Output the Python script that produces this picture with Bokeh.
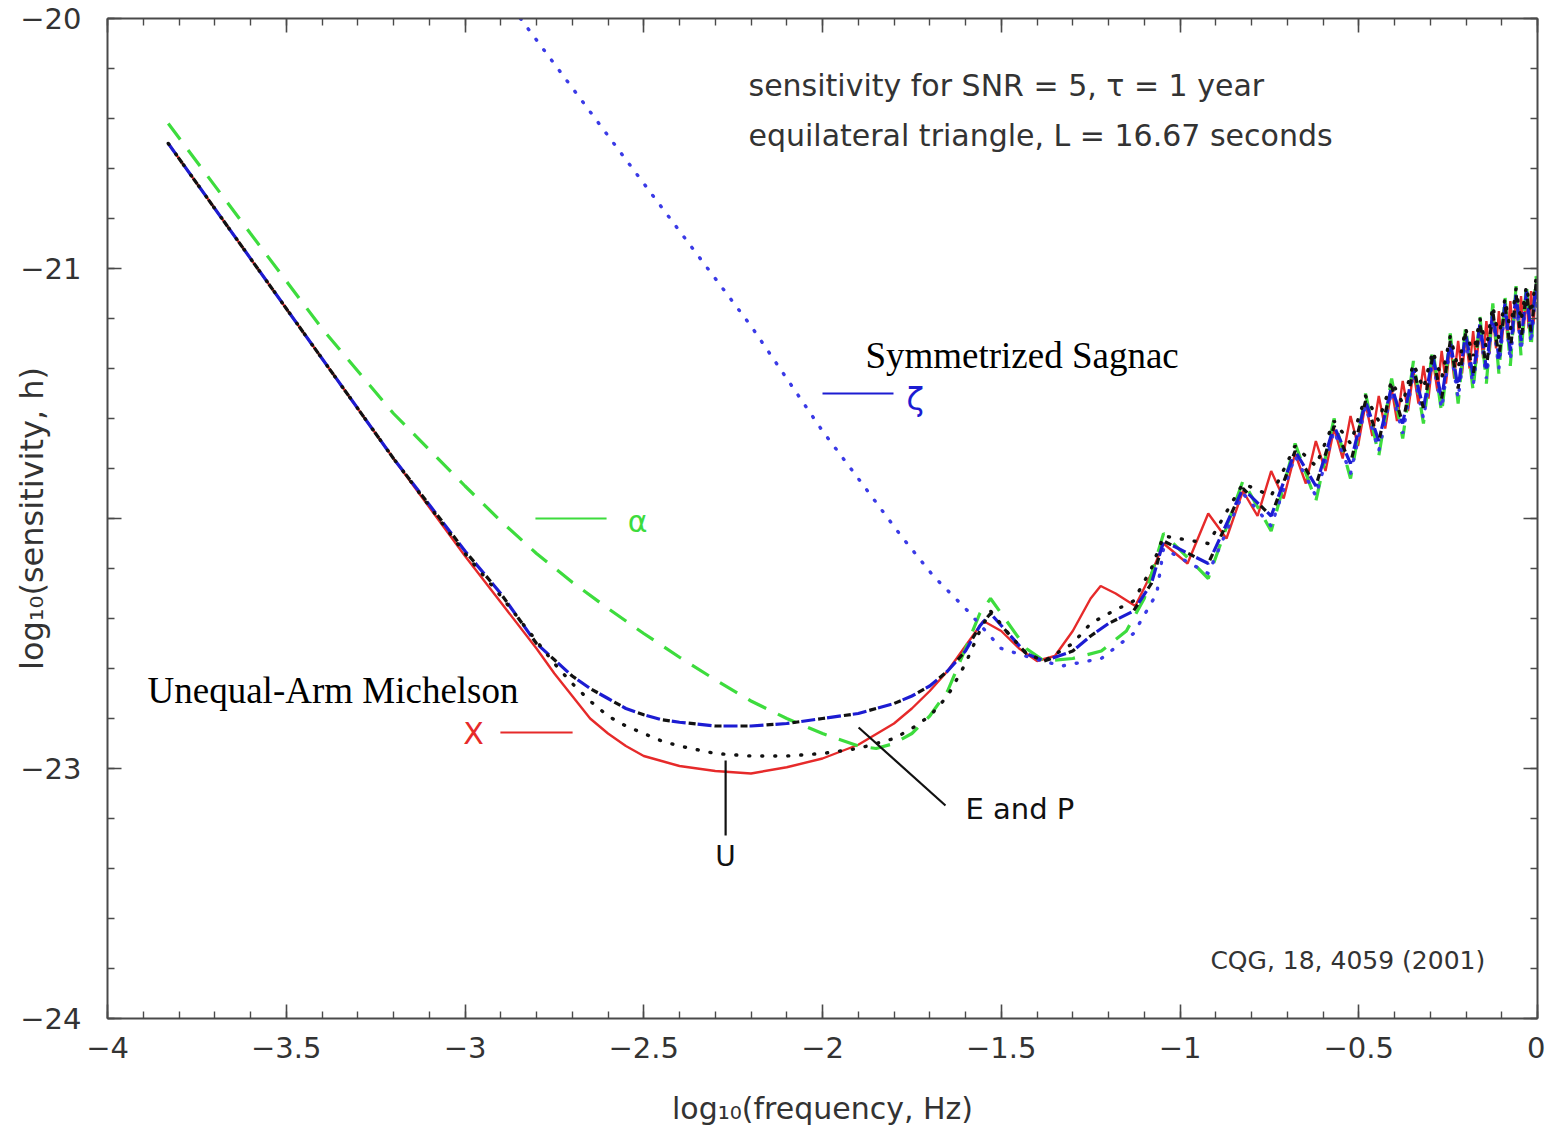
from bokeh.plotting import figure
from bokeh.models import (FixedTicker, LinearAxis, Label, CustomJSTickFormatter, Arrow,
                          CustomLabelingPolicy)
from bokeh.embed import file_html
from bokeh.resources import INLINE

# ---------------- axis ticks ----------------
x_ticks = [-4, -3.5, -3, -2.5, -2, -1.5, -1, -0.5, 0]
y_ticks = [-24, -23, -22, -21, -20]
x_minor = [round(-4 + 0.1 * i, 1) for i in range(41)]
y_minor = [round(-24 + 0.2 * i, 1) for i in range(21)]

# ---------------- data: X (unequal-arm Michelson, red) ----------------
x_red_low = [-3.83, -3.5, -3.2, -3.0, -2.9, -2.8, -2.75, -2.7, -2.65, -2.6,
             -2.55, -2.5, -2.45, -2.4, -2.3, -2.2, -2.1, -2.0, -1.9, -1.8,
             -1.75, -1.7, -1.65, -1.6, -1.55, -1.5, -1.45, -1.4, -1.35, -1.3,
             -1.25, -1.222, -1.18, -1.125, -1.08, -1.046]
y_red_low = [-20.50, -21.16, -21.76, -22.15, -22.335, -22.52, -22.62, -22.71, -22.80, -22.86,
             -22.91, -22.95, -22.97, -22.99, -23.01, -23.02, -22.995, -22.96, -22.905, -22.82,
             -22.76, -22.69, -22.61, -22.51, -22.41, -22.45, -22.52, -22.57, -22.55, -22.45,
             -22.32, -22.27, -22.30, -22.35, -22.22, -22.10]
x_red_hf = [-0.979, -0.921, -0.870, -0.824, -0.783, -0.745, -0.710, -0.678, -0.648, -0.620,
            -0.593, -0.569, -0.545, -0.523, -0.502, -0.481, -0.462, -0.444, -0.426, -0.408,
            -0.393, -0.377, -0.362, -0.347, -0.333, -0.319, -0.305, -0.293, -0.280, -0.268,
            -0.256, -0.244, -0.233, -0.222, -0.211, -0.201, -0.190, -0.180, -0.171, -0.161,
            -0.152, -0.143, -0.134, -0.125, -0.116, -0.108, -0.100, -0.091, -0.084, -0.076,
            -0.068, -0.060, -0.053, -0.046, -0.039, -0.031, -0.025, -0.018, -0.011, -0.004, 0.0]
y_red_hf = [-22.18, -21.98, -22.08, -21.89, -21.99, -21.81, -21.92, -21.74, -21.86, -21.69,
            -21.81, -21.64, -21.76, -21.59, -21.71, -21.54, -21.67, -21.51, -21.64, -21.48,
            -21.61, -21.45, -21.57, -21.41, -21.54, -21.39, -21.52, -21.36, -21.49, -21.33,
            -21.46, -21.30, -21.44, -21.29, -21.42, -21.27, -21.40, -21.25, -21.38, -21.23,
            -21.36, -21.21, -21.34, -21.18, -21.32, -21.17, -21.30, -21.15, -21.28, -21.13,
            -21.26, -21.11, -21.25, -21.11, -21.25, -21.10, -21.24, -21.09, -21.22, -21.07, -21.12]

# shared high-frequency positions (even-n troughs / odd-n peaks) for alpha, zeta, U, E&P
x_hf = [-0.921, -0.824, -0.745, -0.678, -0.620, -0.569, -0.523, -0.481, -0.444, -0.408,
        -0.377, -0.347, -0.319, -0.293, -0.268, -0.244, -0.222, -0.201, -0.180, -0.161,
        -0.143, -0.125, -0.108, -0.091, -0.076, -0.060, -0.046, -0.031, -0.018, -0.004, 0.0]

# ---------------- alpha (Sagnac, green dashed) ----------------
x_alpha_low = [-3.83, -3.6, -3.4, -3.2, -3.0, -2.9, -2.8, -2.7, -2.6, -2.5,
               -2.4, -2.3, -2.2, -2.1, -2.0, -1.9, -1.85, -1.8, -1.75, -1.7,
               -1.65, -1.6, -1.56, -1.53, -1.48, -1.43, -1.38, -1.3, -1.22, -1.15,
               -1.1, -1.046]
y_alpha_low = [-20.42, -20.86, -21.24, -21.58, -21.87, -22.01, -22.14, -22.255, -22.36, -22.46,
               -22.555, -22.645, -22.73, -22.80, -22.86, -22.91, -22.92, -22.90, -22.86, -22.79,
               -22.69, -22.52, -22.38, -22.32, -22.42, -22.52, -22.57, -22.56, -22.53, -22.45,
               -22.32, -22.06]
y_alpha_hf = [-22.24, -21.85, -22.05, -21.70, -21.93, -21.60, -21.84, -21.50, -21.75, -21.44,
              -21.68, -21.37, -21.62, -21.32, -21.58, -21.26, -21.54, -21.23, -21.49, -21.19,
              -21.46, -21.14, -21.42, -21.11, -21.39, -21.07, -21.35, -21.06, -21.32, -21.03, -21.10]

# ---------------- U (black dotted) ----------------
x_u_low = [-3.83, -3.5, -3.2, -3.0, -2.9, -2.85, -2.8, -2.75, -2.7, -2.65,
           -2.6, -2.55, -2.5, -2.45, -2.4, -2.3, -2.2, -2.1, -2.0, -1.9,
           -1.8, -1.75, -1.7, -1.65, -1.6, -1.56, -1.53, -1.48, -1.43, -1.38,
           -1.3, -1.25, -1.2, -1.13, -1.08, -1.046]
y_u_low = [-20.50, -21.16, -21.76, -22.14, -22.31, -22.40, -22.49, -22.58, -22.66, -22.73,
           -22.79, -22.83, -22.86, -22.89, -22.91, -22.94, -22.95, -22.95, -22.94, -22.92,
           -22.88, -22.84, -22.79, -22.71, -22.58, -22.45, -22.37, -22.46, -22.54, -22.57,
           -22.50, -22.42, -22.38, -22.33, -22.20, -22.07]
y_u_hf = [-22.10, -21.86, -21.91, -21.71, -21.79, -21.61, -21.70, -21.51, -21.61, -21.45,
          -21.54, -21.38, -21.48, -21.33, -21.44, -21.27, -21.40, -21.24, -21.35, -21.20,
          -21.32, -21.15, -21.28, -21.12, -21.25, -21.08, -21.21, -21.07, -21.18, -21.04, -21.10]

# ---------------- E and P (blue dash-dot / black dashes) ----------------
x_ep_low = [-3.83, -3.5, -3.2, -3.0, -2.9, -2.85, -2.8, -2.75, -2.7, -2.65,
            -2.6, -2.55, -2.5, -2.45, -2.4, -2.3, -2.2, -2.1, -2.0, -1.9,
            -1.8, -1.75, -1.7, -1.65, -1.6, -1.56, -1.53, -1.48, -1.43, -1.38,
            -1.3, -1.25, -1.2, -1.13, -1.08, -1.046]
y_ep_low = [-20.50, -21.16, -21.76, -22.13, -22.30, -22.40, -22.50, -22.565, -22.63, -22.68,
            -22.72, -22.76, -22.785, -22.805, -22.815, -22.83, -22.83, -22.82, -22.80, -22.78,
            -22.74, -22.71, -22.67, -22.61, -22.53, -22.43, -22.38, -22.46, -22.54, -22.57,
            -22.53, -22.47, -22.42, -22.37, -22.26, -22.09]
y_ep_hf = [-22.18, -21.88, -21.99, -21.73, -21.87, -21.63, -21.78, -21.53, -21.69, -21.47,
           -21.62, -21.40, -21.56, -21.35, -21.52, -21.29, -21.48, -21.26, -21.43, -21.22,
           -21.40, -21.17, -21.36, -21.14, -21.33, -21.10, -21.29, -21.09, -21.26, -21.06, -21.14]

# ---------------- zeta (symmetrized Sagnac, blue dotted) ----------------
x_zeta_low = [-2.845, -2.5, -2.2, -2.0, -1.9, -1.78, -1.69, -1.6, -1.55, -1.5, -1.41, -1.33,
              -1.22, -1.13, -1.065, -1.046]
y_zeta_low = [-20.00, -20.66, -21.23, -21.65, -21.84, -22.07, -22.23, -22.36, -22.44, -22.52,
              -22.56, -22.59, -22.56, -22.46, -22.30, -22.12]
y_zeta_hf = [-22.22, -21.90, -22.03, -21.75, -21.91, -21.65, -21.82, -21.55, -21.73, -21.49,
             -21.66, -21.42, -21.60, -21.37, -21.56, -21.31, -21.52, -21.28, -21.47, -21.24,
             -21.44, -21.19, -21.40, -21.16, -21.37, -21.12, -21.33, -21.11, -21.30, -21.08, -21.16]

# ---------------- colours ----------------
RED = "#e62a2a"
GREEN = "#3ddc3d"
BLUE = "#1c1cd2"
BLUE_DOT = "#3a3ae6"
BLACK = "#111111"
AXC = "#4a4a4a"

p = figure(width=1545, height=1128, x_range=(-4, 0), y_range=(-24, -20),
           output_backend="svg", toolbar_location=None,
           min_border_left=107, min_border_right=8, min_border_top=18, min_border_bottom=110)
p.background_fill_color = "white"
p.border_fill_color = "white"
p.outline_line_color = None
p.xgrid.visible = False
p.ygrid.visible = False

fmt_code = """
const a = Math.round(Math.abs(tick) * 10) / 10;
return (tick < -1e-9 ? '\u2212' : '') + a.toString();
"""
skip_m22 = """
const result = new Set();
let k = 0;
for (const i of indices) { if (k != 2) { result.add(i); } k += 1; }
return result;
"""
hide_all = """
return new Set();
"""

def style_axis(ax, ticks, minor, labels=True):
    ax.ticker = FixedTicker(ticks=ticks, minor_ticks=minor)
    ax.axis_line_color = AXC
    ax.axis_line_width = 2
    ax.major_tick_line_color = AXC
    ax.major_tick_line_width = 1.6
    ax.minor_tick_line_color = AXC
    ax.minor_tick_line_width = 1.4
    ax.major_tick_in = 14
    ax.major_tick_out = 0
    ax.minor_tick_in = 7
    ax.minor_tick_out = 0
    if labels:
        ax.formatter = CustomJSTickFormatter(code=fmt_code)
        ax.major_label_text_font = "DejaVu Sans"
        ax.major_label_text_font_size = "29px"
        ax.major_label_text_color = "#333333"
    else:
        ax.major_label_policy = CustomLabelingPolicy(code=hide_all)
        ax.major_label_text_font_size = "1px"
        ax.major_label_standoff = 0

style_axis(p.xaxis[0], x_ticks, x_minor)
style_axis(p.yaxis[0], y_ticks, y_minor)
p.yaxis[0].major_label_policy = CustomLabelingPolicy(code=skip_m22)
p.xaxis[0].major_label_standoff = 18
p.yaxis[0].major_label_standoff = 26

p.xaxis[0].axis_label = "log\u2081\u2080(frequency, Hz)"
p.yaxis[0].axis_label = "log\u2081\u2080(sensitivity, h)"
for ax in (p.xaxis[0], p.yaxis[0]):
    ax.axis_label_text_font = "DejaVu Sans"
    ax.axis_label_text_font_style = "normal"
    ax.axis_label_text_color = "#333333"
p.xaxis[0].axis_label_text_font_size = "30px"
p.yaxis[0].axis_label_text_font_size = "32px"
p.xaxis[0].axis_label_standoff = 30
p.yaxis[0].axis_label_standoff = -34

top_ax = LinearAxis()
right_ax = LinearAxis()
style_axis(top_ax, x_ticks, x_minor, labels=False)
style_axis(right_ax, y_ticks, y_minor, labels=False)
p.add_layout(top_ax, "above")
p.add_layout(right_ax, "right")

# ---------------- curves ----------------
p.line(x_red_low + x_red_hf, y_red_low + y_red_hf, line_color=RED, line_width=2.4)
p.line(x_alpha_low + x_hf, y_alpha_low + y_alpha_hf, line_color=GREEN, line_width=3.2,
       line_dash="20 13")
p.line(x_zeta_low + x_hf, y_zeta_low + y_zeta_hf, line_color=BLUE_DOT, line_width=3.4,
       line_dash="1 12", line_cap="round")
p.line(x_ep_low + x_hf, y_ep_low + y_ep_hf, line_color=BLUE, line_width=3.2, line_dash="14 12")
p.line(x_ep_low + x_hf, y_ep_low + y_ep_hf, line_color=BLACK, line_width=3.2, line_dash="7 19",
       line_dash_offset=9)
p.line(x_u_low + x_hf, y_u_low + y_u_hf, line_color=BLACK, line_width=3.4, line_dash="1 12",
       line_cap="round")

# ---------------- annotations ----------------
def seg(x0, y0, x1, y1, color, width=2.2):
    p.add_layout(Arrow(x_start=x0, y_start=y0, x_end=x1, y_end=y1, end=None,
                       line_color=color, line_width=width))

def txt(x, y, s, size, color="#333333", font="DejaVu Sans", align="left"):
    p.add_layout(Label(x=x, y=y, text=s, text_font=font, text_font_size=size,
                       text_color=color, text_align=align, text_baseline="middle"))

txt(-2.207, -20.268, "sensitivity for SNR = 5, \u03c4 = 1 year", "30px")
txt(-2.207, -20.468, "equilateral triangle, L = 16.67 seconds", "30px")
txt(-0.915, -23.768, "CQG, 18, 4059 (2001)", "25px")
txt(-1.880, -21.348, "Symmetrized Sagnac", "37px", color="#000000", font="Liberation Serif")
txt(-3.888, -22.688, "Unequal-Arm Michelson", "37px", color="#000000", font="Liberation Serif")

seg(-2.0, -21.5, -1.8014, -21.5, BLUE)
txt(-1.765, -21.52, "\u03b6", "32px", color=BLUE)
seg(-2.803, -22.0, -2.604, -22.0, GREEN)
txt(-2.545, -22.01, "\u03b1", "30px", color=GREEN)
txt(-2.976, -22.86, "X", "30px", color=RED, align="center")
seg(-2.901, -22.856, -2.699, -22.856, RED)
seg(-2.271, -22.968, -2.271, -23.268, BLACK)
txt(-2.271, -23.35, "U", "28px", color=BLACK, align="center")
seg(-1.899, -22.836, -1.656, -23.148, BLACK)
txt(-1.600, -23.16, "E and P", "29px", color=BLACK)

open("out.html", "w").write(file_html(p, INLINE))
